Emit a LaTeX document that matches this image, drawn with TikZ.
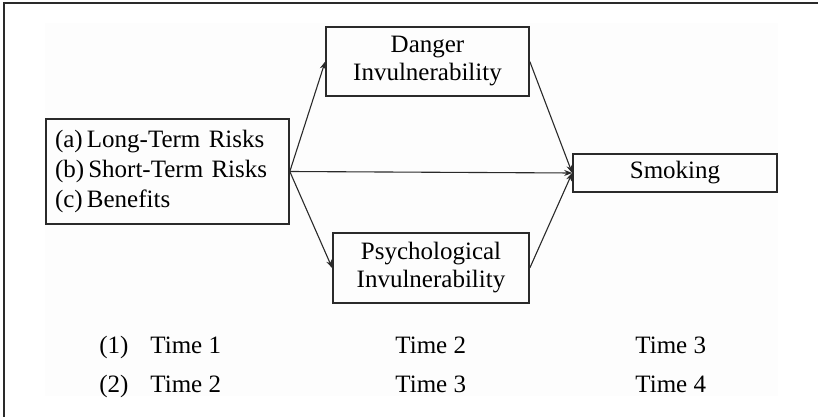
\documentclass[tikz,border=0pt]{standalone}
\usepackage{fontspec}
\setmainfont{Liberation Serif}
\usetikzlibrary{arrows.meta}
\definecolor{ink}{HTML}{2A2A2A}
\tikzset{
  boxnode/.style={draw=ink, line width=0.8pt, align=center, inner sep=0pt,
    font=\fontsize{12.5}{14}\selectfont},
  conn/.style={draw=ink, line width=0.55pt, -{Stealth[length=4pt,width=3pt]}},
  lbl/.style={anchor=base west, inner sep=0pt, font=\fontsize{12.5}{15}\selectfont}
}
\begin{document}
\begin{tikzpicture}[x=0.5pt, y=-0.5pt]
\useasboundingbox (0,0) rectangle (818,417);
\fill[black!0.7] (45,23) rectangle (778,396);
\draw[ink, line width=1pt] (4,417) -- (4,3.5) -- (818,3.5);

\node[boxnode, minimum width=121.5pt, minimum height=52.5pt, text width=112.5pt, align=left,
  font=\fontsize{12.5}{15}\selectfont] (risks) at (167.5,171.5)
  {(a)\,Long-Term Risks\\(b)\,Short-Term Risks\\(c)\,Benefits};
\node[boxnode, minimum width=101.5pt, minimum height=34.5pt] (danger) at (427.5,61.5)
  {Danger\\Invulnerability};
\node[boxnode, minimum width=98pt, minimum height=35pt] (psych) at (431,268)
  {Psychological\\Invulnerability};
\node[boxnode, minimum width=102pt, minimum height=19pt] (smoke) at (675,173)
  {Smoking};

\draw[conn] (risks.east) -- (danger.west);
\draw[conn] (risks.east) -- (psych.west);
\draw[conn] (risks.east) -- (smoke.west);
\draw[conn] (danger.east) -- (smoke.west);
\draw[conn] (psych.east) -- (smoke.west);

\node[lbl] (n1) at (99,353) {(1)};
\node[lbl] (t11) at (150,353) {Time 1};
\node[lbl] (t12) at (395,353) {Time 2};
\node[lbl] (t13) at (635,353) {Time 3};
\node[lbl] (n2) at (99,392) {(2)};
\node[lbl] (t21) at (150,392) {Time 2};
\node[lbl] (t22) at (395,392) {Time 3};
\node[lbl] (t23) at (635,392) {Time 4};
\end{tikzpicture}
\end{document}
